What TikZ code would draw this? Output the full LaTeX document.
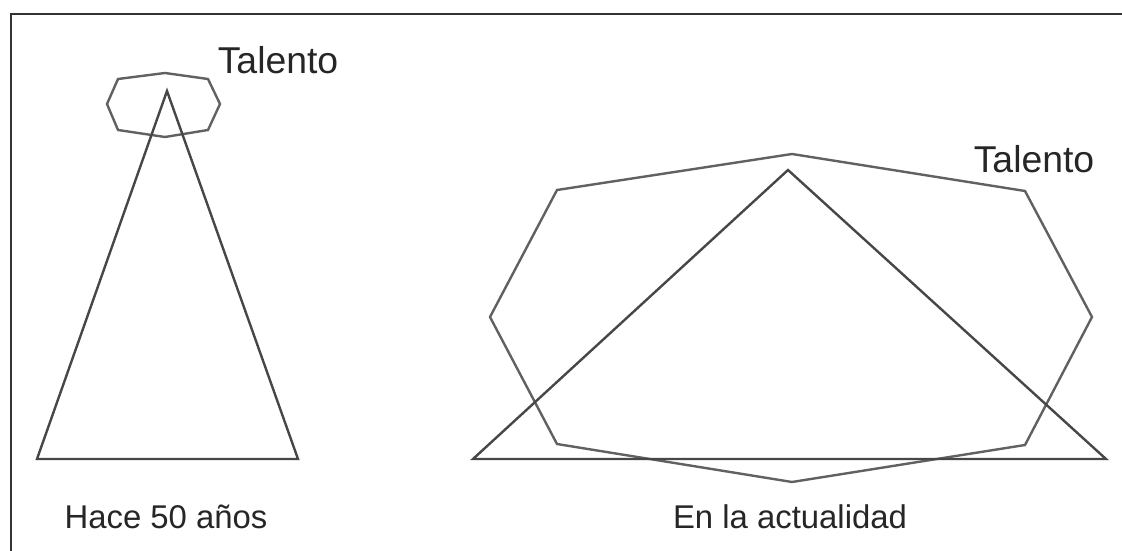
\documentclass[tikz,border=0pt]{standalone}
\usepackage{fontspec}
\setmainfont{Liberation Sans}
\begin{document}
\begin{tikzpicture}[x=1bp,y=-1bp,
  frame/.style={draw=black!80,line width=2.6bp},
  tri/.style={draw=black!72,line width=2.4bp,line join=miter},
  oct/.style={draw=black!62,line width=2.4bp,line join=miter},
  lbl/.style={inner sep=0pt,font=\fontsize{33}{38}\selectfont,text=black!85},
  big/.style={lbl,font=\fontsize{37.5}{42}\selectfont}]
\useasboundingbox (0,0) rectangle (1122,551);
% frame (only left and top edges visible)
\draw[frame] (11,551) -- (11,14) -- (1122,14);
% left: small talent octagon and triangle
\draw[oct] (118,79) -- (165,73) -- (208,79) -- (220,104) -- (208,130) -- (165,137) -- (118,130) -- (107,104) -- cycle;
\draw[tri] (167,91) -- (298,459) -- (37,459) -- cycle;
% right: large talent octagon and triangle
\draw[oct] (557,190) -- (792,154) -- (1025,191) -- (1092,317) -- (1025,445) -- (792,482) -- (557,444) -- (490,317) -- cycle;
\draw[tri] (788,170) -- (1106,459) -- (473,459) -- cycle;
% labels
\node[big] (t1) at (278,60) {Talento};
\node[big] (t2) at (1034,159) {Talento};
\node[lbl] (h1) at (166,517) {Hace 50 años};
\node[lbl] (h2) at (790,517) {En la actualidad};
\end{tikzpicture}
\end{document}
